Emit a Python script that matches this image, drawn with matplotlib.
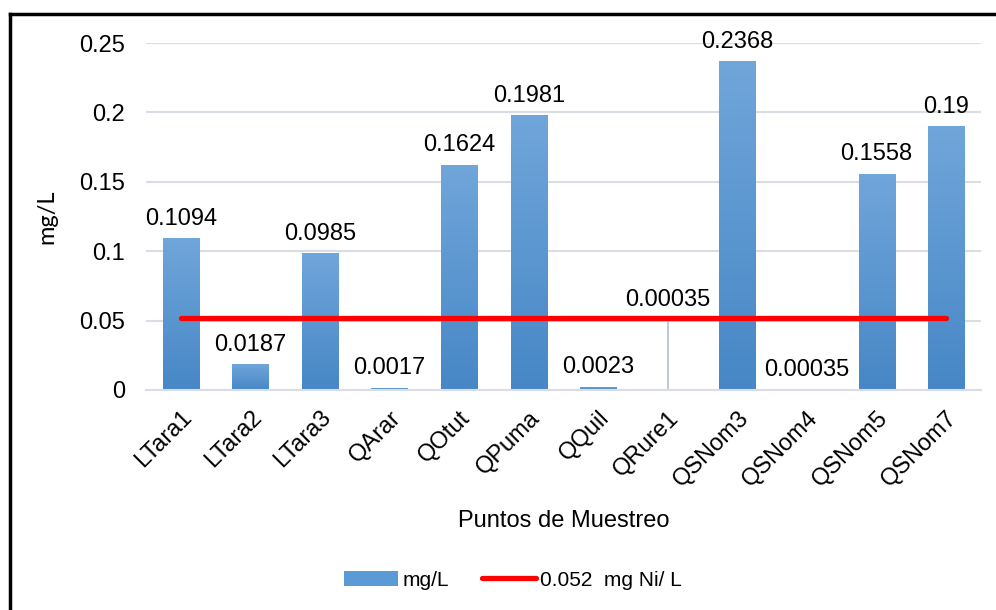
import matplotlib.pyplot as plt
import numpy as np
from matplotlib.lines import Line2D
from matplotlib.patches import Patch
from matplotlib.colors import LinearSegmentedColormap

puntos = ["LTara1", "LTara2", "LTara3", "QArar", "QOtut", "QPuma", "QQuil",
          "QRure1", "QSNom3", "QSNom4", "QSNom5", "QSNom7"]
valores = [0.1094, 0.0187, 0.0985, 0.0017, 0.1624, 0.1981, 0.0023,
           0.00035, 0.2368, 0.00035, 0.1558, 0.19]
etiquetas = ["0.1094", "0.0187", "0.0985", "0.0017", "0.1624", "0.1981", "0.0023",
             "0.00035", "0.2368", "0.00035", "0.1558", "0.19"]
limite = 0.052

plt.rcParams['font.family'] = ['Liberation Sans', 'DejaVu Sans']

fig = plt.figure(figsize=(9.96, 6.1), dpi=100)
ax = fig.add_axes([0.1466, 0.3607, 0.8384, 0.5688])

x = np.arange(len(puntos))
bars = ax.bar(x, valores, width=0.52, color="#5b9bd5", zorder=2)

# degradado vertical en las barras
grad = np.linspace(0, 1, 256).reshape(-1, 1)
cmap = LinearSegmentedColormap.from_list("azul", ["#4787c6", "#70a6da"])
for b in bars:
    x0, w, h = b.get_x(), b.get_width(), b.get_height()
    im = ax.imshow(grad, cmap=cmap, aspect="auto", origin="lower",
                   extent=[x0, x0 + w, 0, h], zorder=2)
    im.set_clip_path(b)
    b.set_alpha(0)

ax.plot(x, [limite] * len(x), color="red", lw=3.8, solid_capstyle="round", zorder=3)

for i, (v, t) in enumerate(zip(valores, etiquetas)):
    if puntos[i] == "QRure1":
        ax.plot([i, i], [v, limite], color="#b4bfd0", lw=1.2, zorder=1)
        ax.text(i, 0.0648, t, ha="center", va="center", fontsize=17)
    else:
        ax.annotate(t, (i, v), xytext=(0, 6), textcoords="offset points",
                    ha="center", va="bottom", fontsize=17)

ax.set_xlim(-0.5, len(puntos) - 0.5)
ax.set_ylim(0, 0.25)
ax.set_yticks([0, 0.05, 0.1, 0.15, 0.2, 0.25])
ax.set_yticklabels(["0", "0.05", "0.1", "0.15", "0.2", "0.25"], fontsize=17)
ax.set_xticks(x)
ax.set_xticklabels(puntos, rotation=45, ha="right", rotation_mode="anchor", fontsize=17)
ax.tick_params(axis="y", length=0, pad=15)
ax.tick_params(axis="x", length=0, pad=12)
ax.grid(axis="y", color="#d9dde5", lw=1.5, zorder=0)
ax.set_axisbelow(True)
for s in ["top", "right", "left"]:
    ax.spines[s].set_visible(False)
ax.spines["bottom"].set_color("#d9dde5")
ax.spines["bottom"].set_linewidth(1.5)

ax.set_xlabel("Puntos de Muestreo", fontsize=17, labelpad=14)
ax.set_ylabel("mg/L", fontsize=17, family="Lato", labelpad=16)

handles = [Patch(facecolor="#5b9bd5", label="mg/L"),
           Line2D([0], [0], color="red", lw=3.8, solid_capstyle="round", label="0.052  mg Ni/ L")]
fig.legend(handles=handles, loc="center", bbox_to_anchor=(513 / 996, 1 - 580 / 610),
           ncol=2, frameon=False, fontsize=15, handlelength=2.6, columnspacing=1.6,
           handletextpad=0.2)

# marco recortado (arriba e izquierda)
fig.add_artist(Line2D([0.0100, 1.0], [1 - 14 / 610, 1 - 14 / 610], color="black", lw=2.5,
                      transform=fig.transFigure))
fig.add_artist(Line2D([0.0100, 0.0100], [0, 1 - 14 / 610], color="black", lw=2.5,
                      transform=fig.transFigure))

fig.savefig("out.png", dpi=100)
